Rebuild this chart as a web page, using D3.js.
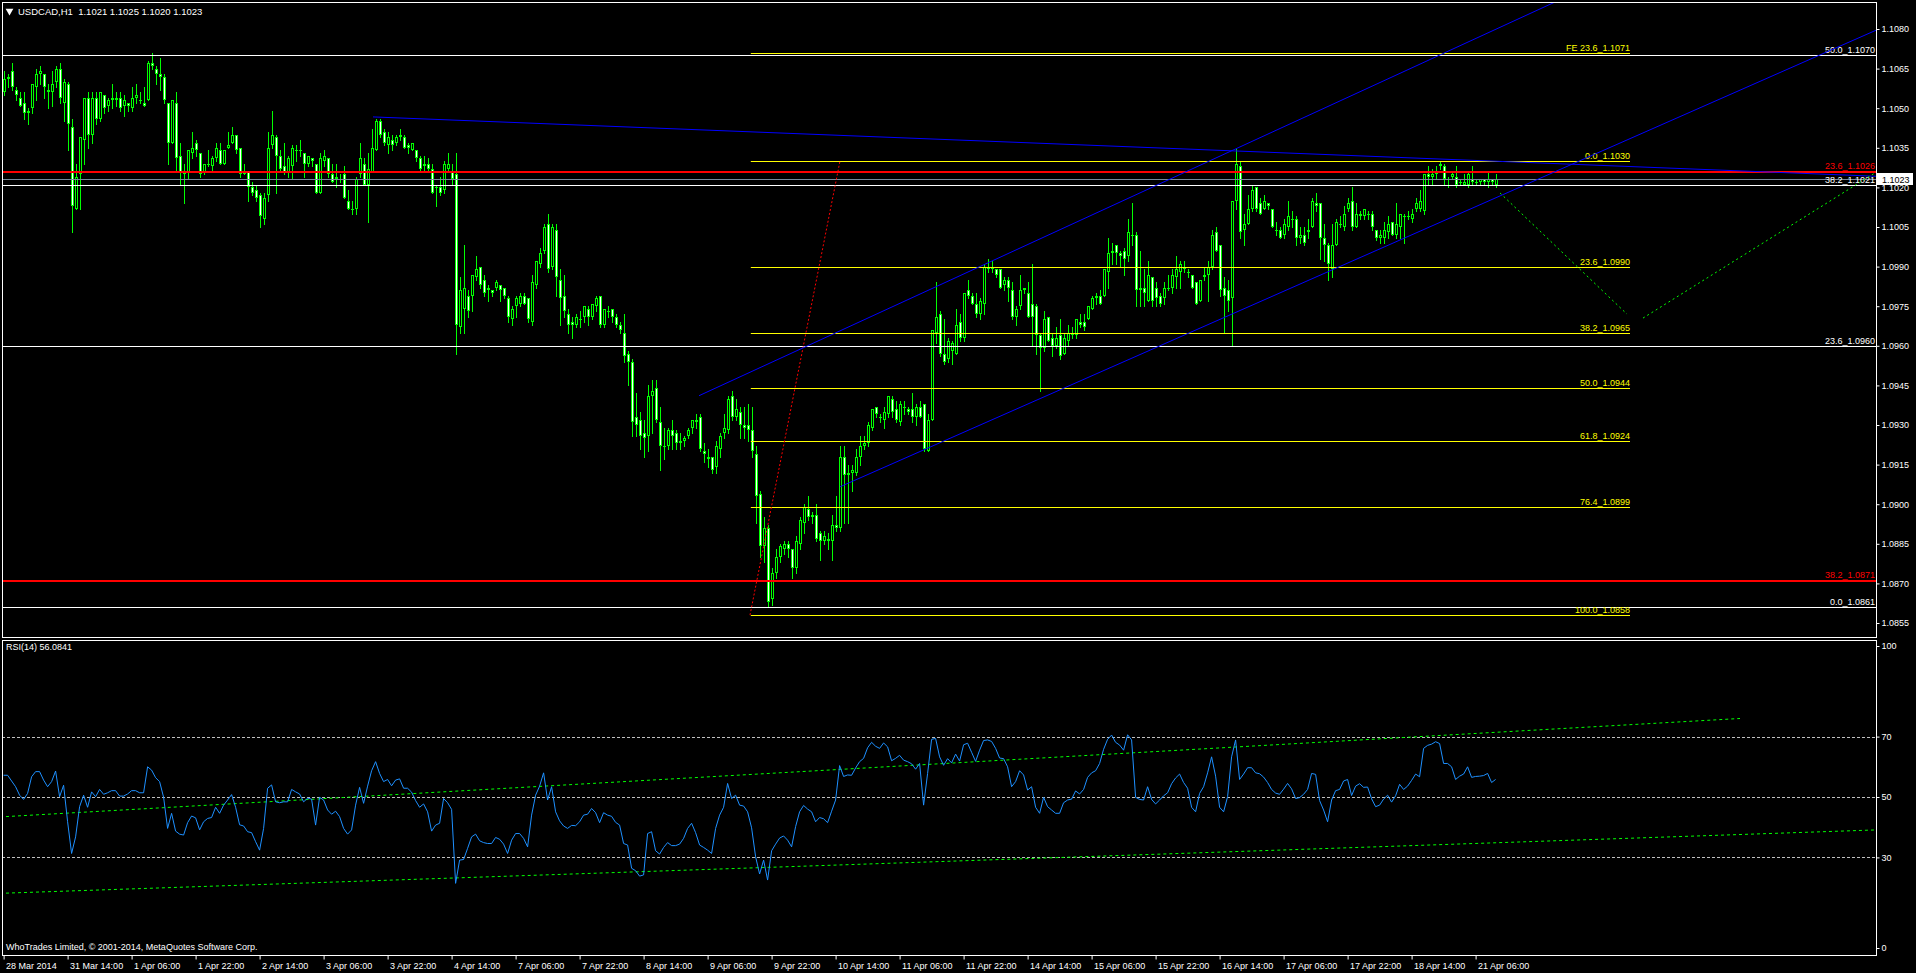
<!DOCTYPE html>
<html><head><meta charset="utf-8">
<script src="https://cdn.jsdelivr.net/npm/d3@7"></script>
<style>
html,body{margin:0;padding:0;background:#000;overflow:hidden}
svg text{font-family:"Liberation Sans",Arial,sans-serif;font-size:9px}
</style></head><body>
<svg id="chart" width="1916" height="973"></svg>
<script>
// ---------------- DATA ----------------
const symbolTitle = "USDCAD,H1  1.1021 1.1025 1.1020 1.1023";
const rsiTitle = "RSI(14) 56.0841";
const copyright = "WhoTrades Limited, \u00A9 2001-2014, MetaQuotes Software Corp.";
const pipBase = 1.08; // price = pipBase + pips/10000

const openPips = [256,261,264,257,254,252,248,250,258,263,263,257,256,260,265,252,259,243,212,225,
238,254,240,254,246,255,251,253,254,254,251,252,250,254,253,252,253,267,265,263,
262,252,237,252,232,226,226,233,237,233,226,229,228,231,234,229,235,237,240,235,
225,226,220,219,217,208,217,236,239,232,228,226,228,234,234,233,229,231,229,218,
230,231,225,223,223,225,215,212,212,225,229,221,226,234,245,241,236,238,237,239,
239,236,234,234,231,228,229,227,220,220,219,227,226,225,167,174,179,179,186,190,
185,182,181,182,183,182,178,170,175,176,179,178,169,183,191,196,206,190,204,185,
179,172,169,168,170,171,174,171,175,179,168,173,174,171,168,165,157,154,133,132,
127,126,141,144,131,122,122,128,127,123,124,126,129,132,133,120,118,118,114,121,
127,128,141,133,135,130,130,128,119,104,84,91,64,74,80,83,85,83,76,85,
93,98,95,96,89,86,87,86,92,91,118,111,112,112,118,122,123,129,137,133,
132,134,140,136,131,137,136,136,133,137,138,120,132,165,172,157,155,158,157,169,
163,181,179,176,172,176,190,189,189,189,183,185,181,171,175,181,180,176,175,164,
159,171,163,160,164,157,162,164,164,169,169,170,174,178,179,179,188,195,198,195,
196,194,202,202,181,182,177,186,182,179,178,182,182,186,188,190,188,187,184,177,
186,187,190,203,198,182,181,178,215,228,204,206,212,220,214,212,214,212,204,204,
202,205,208,208,201,202,203,205,214,214,201,198,189,198,206,205,212,215,205,210,
209,210,210,204,201,201,203,207,202,205,209,209,208,212,212,211,225,224,225,228,
228,223,224,224,222,221,221,223,222,222,223,222,223,221];

const highPips = [264,263,267,258,256,256,250,259,265,266,263,259,264,266,267,261,260,246,229,239,
254,256,256,256,256,255,254,259,256,256,255,252,258,259,256,258,268,271,266,269,
263,252,253,256,237,229,234,241,238,233,229,234,232,237,237,234,241,243,240,235,
229,226,222,221,218,218,241,249,240,234,237,232,236,236,238,233,232,231,229,233,
234,231,229,229,225,228,219,215,224,237,231,233,242,246,246,242,241,240,240,242,
240,237,237,234,232,232,231,229,221,224,230,233,229,233,186,198,181,187,194,190,
187,183,181,185,183,182,179,175,179,180,180,178,187,192,197,206,210,206,206,189,
187,174,171,172,173,175,175,176,179,179,174,175,174,172,169,172,158,155,142,135,
132,145,147,147,137,129,129,132,128,127,126,129,132,134,134,123,121,118,124,127,
134,141,143,140,137,137,138,137,122,105,95,92,76,83,85,86,86,83,88,95,
100,103,97,100,90,90,89,96,103,122,122,115,115,121,126,126,131,136,137,134,
137,141,141,139,139,139,137,142,138,139,138,134,166,184,173,170,163,162,174,172,
180,185,180,180,178,191,193,192,189,189,186,186,184,175,187,182,184,191,176,165,
173,171,165,167,170,165,168,167,170,172,172,175,179,180,181,189,201,199,198,196,
197,208,214,203,196,189,192,186,184,180,184,187,189,194,192,192,189,187,184,185,
190,192,204,205,198,186,185,215,235,230,210,217,221,220,216,217,214,212,207,205,
208,215,211,209,205,205,208,216,218,214,206,199,206,208,209,213,216,220,214,211,
212,211,211,204,204,207,209,207,214,210,210,211,212,216,219,225,228,227,228,230,
229,224,226,228,223,225,226,228,223,223,223,226,223,225];

const lowPips = [255,258,257,253,251,246,244,248,253,259,254,250,251,258,252,245,234,203,212,212,
229,235,237,244,245,248,249,250,251,249,247,249,249,252,252,251,253,265,259,257,
252,229,237,226,221,214,223,231,232,224,225,228,226,230,229,229,235,237,233,224,
225,215,217,215,205,206,215,235,218,226,225,224,223,230,232,224,228,228,218,218,
228,224,222,220,222,216,212,210,210,224,221,207,226,234,239,236,233,234,236,238,
235,233,234,230,226,226,226,218,213,217,218,226,221,157,165,165,171,173,185,182,
179,177,179,181,177,178,169,168,171,175,176,169,168,182,190,195,188,189,179,168,
171,165,163,167,167,169,168,170,173,167,167,171,169,167,165,154,145,126,126,121,
118,120,127,131,113,117,121,121,121,121,122,125,127,129,120,116,114,112,112,118,
125,127,132,132,125,125,124,118,93,80,78,61,62,72,78,81,80,72,74,83,
89,94,93,86,79,85,83,79,90,90,93,93,105,111,115,121,122,128,133,131,
129,133,133,131,130,134,134,131,130,133,120,120,132,161,156,153,154,153,157,162,
162,178,176,171,170,172,188,188,186,182,181,177,170,168,174,180,171,160,157,143,
158,162,156,159,155,157,160,163,163,167,166,170,174,176,176,179,182,191,191,190,
187,192,198,175,175,175,177,175,175,175,176,181,180,182,182,188,186,182,176,177,
185,177,189,196,179,165,173,160,212,201,198,206,211,211,210,212,212,205,202,201,
201,204,205,198,199,198,201,205,211,193,192,185,186,198,205,204,211,204,205,208,
208,208,204,200,199,199,201,202,201,201,199,208,207,211,211,210,221,221,223,227,
221,220,223,220,221,221,220,221,221,221,221,220,221,220];

const closePips = [261,262,258,255,251,248,249,259,263,264,258,256,259,265,254,260,244,213,224,239,
254,240,254,246,256,250,253,254,253,250,253,251,254,255,253,251,267,266,263,262,
253,237,253,231,226,225,234,235,234,225,229,229,231,235,229,234,236,240,234,225,
226,220,218,216,209,216,235,240,232,227,226,231,235,234,234,229,232,230,218,231,
232,225,222,224,223,216,212,212,223,231,221,227,235,245,240,237,239,236,239,240,
235,235,237,231,227,229,227,218,220,218,229,229,223,168,181,182,173,187,189,183,
180,181,180,184,181,179,171,174,178,179,176,170,184,192,195,205,189,205,186,178,
173,168,168,171,170,175,171,176,178,168,174,173,171,168,166,156,154,131,130,126,
125,141,143,132,122,122,128,126,123,124,125,128,132,131,121,119,117,113,122,126,
129,140,133,136,130,129,128,120,103,84,91,63,74,80,84,85,83,76,86,94,
99,95,96,87,86,88,86,92,91,118,111,112,113,118,122,123,130,136,134,133,
135,141,135,132,138,137,135,133,137,133,121,132,166,171,157,154,162,161,168,163,
180,179,176,172,177,190,189,190,187,182,185,182,171,174,181,182,171,171,164,159,
170,162,160,163,156,163,165,165,170,168,167,175,178,179,176,189,195,196,195,194,
193,203,202,181,182,180,187,177,178,176,182,182,187,189,191,189,188,182,176,185,
187,190,202,196,181,179,177,215,229,203,206,212,219,212,210,215,213,205,204,201,
206,209,208,201,202,199,204,215,213,201,198,191,198,207,206,210,214,205,210,209,
212,210,205,201,202,204,206,202,206,210,209,209,210,214,215,225,224,225,226,229,
223,223,225,221,222,222,225,222,222,223,222,223,222,223];

const rsiValues = [57.2,57.2,55.3,53.4,50.6,49.2,51.2,56.7,58.4,58.4,
55.6,53.4,55.1,58.6,50.1,53.9,41.8,31.3,36.8,46.8,
50.6,46.6,51.7,50.1,52.5,50.9,51.4,52.1,52.1,50.3,
50.3,51.0,52.1,52.1,51.4,51.4,60.0,58.9,56.4,55.1,
49.9,39.6,44.6,38.7,37.7,37.4,41.5,43.7,43.1,39.1,
41.8,42.9,43.2,46.6,44.6,47.3,49.0,50.8,46.6,40.8,
40.4,38.5,38.2,35.2,32.4,39.6,52.9,54.0,48.4,48.1,
48.4,48.4,52.5,51.7,51.0,48.4,49.6,49.3,40.7,49.9,
49.0,45.7,44.3,45.3,43.5,39.6,37.7,39.1,47.3,53.2,
47.9,53.6,58.7,61.7,57.8,55.1,55.8,53.7,55.6,56.0,
52.9,52.9,51.6,48.8,46.6,47.7,45.1,38.7,40.7,41.3,
49.5,48.1,45.9,21.4,29.1,29.3,33.0,36.8,37.7,35.5,
34.9,34.6,34.6,36.6,36.0,34.4,31.3,35.7,37.9,37.9,
36.3,33.5,44.0,50.6,53.6,58.0,49.0,53.4,45.1,42.1,
40.4,39.6,40.6,40.5,41.8,44.0,44.3,46.2,44.8,41.5,
44.8,44.0,43.6,41.6,40.7,34.6,34.1,26.4,25.6,23.8,
24.2,37.9,38.5,32.2,31.1,33.3,34.9,33.9,33.9,34.4,
36.3,39.6,41.3,38.2,34.1,33.3,32.4,31.3,39.6,44.0,
46.6,54.5,49.5,50.6,47.3,47.0,45.1,39.8,
30.2,24.5,29.1,22.5,32.2,34.4,36.4,37.1,35.7,33.5,
40.2,45.1,47.2,46.0,45.1,41.8,43.2,42.8,41.5,45.3,
49.0,60.4,56.8,57.3,57.2,59.6,61.7,62.8,66.3,68.1,
66.8,66.1,67.9,66.6,62.0,62.8,63.8,62.2,61.7,61.0,
59.2,61.1,47.3,57.8,69.1,69.4,63.3,60.5,62.7,61.3,
64.2,61.9,67.3,67.8,64.8,61.8,65.5,68.7,68.9,68.4,
66.1,62.9,62.7,60.0,53.4,55.1,58.7,57.3,52.3,53.4,
46.6,44.6,49.9,46.8,45.7,44.6,44.6,48.1,49.0,49.3,
52.0,51.0,52.5,56.5,58.0,58.7,61.1,65.8,69.1,70.5,
68.1,67.2,65.5,70.6,68.9,49.9,49.2,49.0,53.4,49.2,
47.7,49.0,50.4,51.4,54.4,56.3,57.6,54.8,52.9,46.6,
45.1,51.2,53.4,58.0,63.3,56.9,46.6,45.1,50.1,63.3,
68.9,55.8,57.6,59.7,59.7,58.0,57.7,56.6,54.8,52.5,
51.3,50.9,52.6,54.5,52.7,49.5,49.8,50.9,52.5,57.8,
57.5,48.8,45.7,41.8,49.0,52.1,52.5,55.3,55.8,50.5,
53.6,54.4,53.2,53.3,49.4,46.8,47.3,49.3,50.6,48.3,
50.4,54.2,52.5,53.6,55.5,57.6,56.7,66.1,67.1,67.5,
68.3,67.7,61.1,61.1,60.0,55.8,56.9,57.6,60.0,56.5,
56.8,56.9,57.1,57.8,54.8,55.8];

const xTickLabels = ["28 Mar 2014","31 Mar 14:00","1 Apr 06:00","1 Apr 22:00","2 Apr 14:00","3 Apr 06:00",
"3 Apr 22:00","4 Apr 14:00","7 Apr 06:00","7 Apr 22:00","8 Apr 14:00","9 Apr 06:00","9 Apr 22:00",
"10 Apr 14:00","11 Apr 06:00","11 Apr 22:00","14 Apr 14:00","15 Apr 06:00","15 Apr 22:00",
"16 Apr 14:00","17 Apr 06:00","17 Apr 22:00","18 Apr 14:00","21 Apr 06:00"];
const xTickStep = 16; // bars between time labels
const priceTicks = [1.1080,1.1065,1.1050,1.1035,1.1020,1.1005,1.0990,1.0975,1.0960,1.0945,1.0930,1.0915,1.0900,1.0885,1.0870,1.0855];
const rsiTicks = [100,70,50,30,0];
const rsiLevels = [70,50,30];
const bidPrice = 1.1023;

// Fibonacci objects: [level, price]
const whiteFib = [["50.0",1.1070],["38.2",1.1021],["23.6",1.0960],["0.0",1.0861]];
const redFib = [["23.6",1.1026],["38.2",1.0871]];
const yellowFib = [["0.0",1.1030],["23.6",1.0990],["38.2",1.0965],["50.0",1.0944],["61.8",1.0924],["76.4",1.0899],["100.0",1.0858]];
const fibExpansion = [["FE 23.6",1.1071]];
const yellowFibSpan = [186.8, 406.6];            // bar index range
const fibAnchorLine = [[186.6,1.0858],[209.1,1.1030]];
// trend lines [bar index, price]
const blueResistance = [[92.35,1.10467],[308,1.10338]];
const channelLower = [[209.1,1.09066],[468.35,1.10797]];
const channelUpper = [[173.85,1.09411],[345.35,1.10606]];
const projectionDown = [[374.1,1.10179],[405.85,1.0972]];
const projectionUp = [[409.85,1.09705],[467.85,1.10255]];
// RSI trend lines [bar index, rsi]
const rsiTrendUpper = [[-0.9,43.4],[434.1,76.0]];
const rsiTrendLower = [[-0.9,18.1],[468.1,39.1]];

// ---------------- LAYOUT ----------------
const svg = d3.select("#chart");
const L = 2, R = 1877, MT = 2, MB = 637, RT = 640, RB = 955;
const font = '"Liberation Sans",Arial,sans-serif';
svg.append("rect").attr("width",1916).attr("height",973).attr("fill","#000");

const x = d3.scaleLinear().domain([-0.4, 468.35]).range([L, R]);
const y = d3.scaleLinear().domain([1.08497, 1.109023]).range([MB, MT]);
const yR = d3.scaleLinear().domain([0,100]).range([948,646]);
const px = p => pipBase + p/10000;
const xMax = x.domain()[1];

const defs = svg.append("defs");
defs.append("clipPath").attr("id","mainClip").append("rect").attr("x",L).attr("y",MT).attr("width",R-L).attr("height",MB-MT);
defs.append("clipPath").attr("id","rsiClip").append("rect").attr("x",L).attr("y",RT).attr("width",R-L).attr("height",RB-RT);

const main = svg.append("g").attr("clip-path","url(#mainClip)");
const rsiG = svg.append("g").attr("clip-path","url(#rsiClip)");

// ---------------- CANDLES ----------------
const bars = openPips.map((o,i)=>({i, o:px(o), h:px(highPips[i]), l:px(lowPips[i]), c:px(closePips[i])}));
const cg = main.append("g").attr("shape-rendering","crispEdges");
bars.forEach(b=>{
  const cx = Math.round(x(b.i));
  const yh = Math.round(y(Math.max(b.h,b.o,b.c)));
  const yl = Math.round(y(Math.min(b.l,b.o,b.c)));
  cg.append("rect").attr("x",cx).attr("y",yh).attr("width",1).attr("height",Math.max(1,yl-yh+1)).attr("fill","#00ff00");
  const top = Math.round(y(Math.max(b.o,b.c)));
  const bot = Math.round(y(Math.min(b.o,b.c)));
  if (bot - top <= 2) {
    cg.append("rect").attr("x",cx-1).attr("y",top).attr("width",3).attr("height",Math.max(1,bot-top)).attr("fill","#00ff00");
  } else {
    cg.append("rect").attr("x",cx-0.5).attr("y",top+0.5).attr("width",2).attr("height",bot-top-1)
      .attr("fill", b.o > b.c ? "#ffffff" : "#000000").attr("stroke","#00ff00").attr("stroke-width",1);
  }
});

// ---------------- OBJECTS ----------------
function ray(pts){ const [[i0,p0],[i1,p1]] = pts; return [[i0,p0],[xMax, p0 + (xMax-i0)/(i1-i0)*(p1-p0)]]; }
function seg(g, pts, color, dash, yScale){
  const ys = yScale || y;
  g.append("line").attr("x1",x(pts[0][0])).attr("y1",ys(pts[0][1])).attr("x2",x(pts[1][0])).attr("y2",ys(pts[1][1]))
   .attr("stroke",color).attr("stroke-width",1).attr("stroke-dasharray",dash||null);
}
const hY = p => Math.round(y(p)) + 0.5;

// bid line
main.append("line").attr("x1",L).attr("x2",R).attr("y1",hY(bidPrice)).attr("y2",hY(bidPrice)).attr("stroke","#778899");

// white fib (full width)
whiteFib.forEach(([lv,p])=>{
  main.append("line").attr("x1",L).attr("x2",R).attr("y1",hY(p)).attr("y2",hY(p)).attr("stroke","#ffffff");
  main.append("text").attr("x",R-2).attr("y",hY(p)-2.5).attr("text-anchor","end").attr("fill","#ffffff").text(lv+"_"+p.toFixed(4));
});
// red fib (thick)
redFib.forEach(([lv,p])=>{
  main.append("line").attr("x1",L).attr("x2",R).attr("y1",Math.round(y(p))).attr("y2",Math.round(y(p))).attr("stroke","#ff0000").attr("stroke-width",2);
  main.append("text").attr("x",R-2).attr("y",Math.round(y(p))-3).attr("text-anchor","end").attr("fill","#ff0000").text(lv+"_"+p.toFixed(4));
});
// yellow fib + expansion
yellowFib.concat(fibExpansion).forEach(([lv,p])=>{
  main.append("line").attr("x1",x(yellowFibSpan[0])).attr("x2",x(yellowFibSpan[1])).attr("y1",hY(p)).attr("y2",hY(p)).attr("stroke","#ffff00");
  main.append("text").attr("x",x(yellowFibSpan[1])).attr("y",hY(p)-2.5).attr("text-anchor","end").attr("fill","#ffff00").text(lv+"_"+p.toFixed(4));
});
seg(main, fibAnchorLine, "#ff0000", "2,2");

// blue trend lines
seg(main, ray(blueResistance), "#0000ff");
seg(main, ray(channelLower), "#0000ff");
seg(main, ray(channelUpper), "#0000ff");
// green projections
seg(main, projectionDown, "#00ff00", "2,3");
seg(main, projectionUp, "#00ff00", "2,3");

// ---------------- RSI ----------------
rsiLevels.forEach(v=>{
  rsiG.append("line").attr("x1",L).attr("x2",R).attr("y1",Math.round(yR(v))+0.5).attr("y2",Math.round(yR(v))+0.5)
    .attr("stroke","#c0c0c0").attr("stroke-dasharray","3,2");
});
seg(rsiG, rsiTrendUpper, "#00ff00", "3,3", yR);
seg(rsiG, rsiTrendLower, "#00ff00", "3,3", yR);
rsiG.append("path").datum(rsiValues).attr("fill","none").attr("stroke","#1e90ff").attr("stroke-width",1)
  .attr("d", d3.line().x((d,i)=>x(i)).y(d=>yR(d)));

// ---------------- FRAMES ----------------
svg.append("rect").attr("x",L+0.5).attr("y",MT+0.5).attr("width",R-L-1).attr("height",MB-MT).attr("fill","none").attr("stroke","#fff");
svg.append("rect").attr("x",L+0.5).attr("y",RT+0.5).attr("width",R-L-1).attr("height",RB-RT).attr("fill","none").attr("stroke","#fff");

// ---------------- AXES ----------------
function styleAxis(g){
  g.select(".domain").remove();
  g.selectAll(".tick line").attr("stroke","#fff");
  g.selectAll(".tick text").attr("fill","#fff").style("font-family",font).style("font-size","9px");
}
svg.append("g").attr("transform",`translate(${R-0.5},0)`)
  .call(d3.axisRight(y).tickValues(priceTicks).tickSize(3).tickPadding(2).tickFormat(d3.format(".4f"))).call(styleAxis);
svg.append("g").attr("transform",`translate(${R-0.5},0)`)
  .call(d3.axisRight(yR).tickValues(rsiTicks).tickSize(3).tickPadding(2).tickFormat(d3.format("d"))).call(styleAxis);
const xg = svg.append("g").attr("transform",`translate(0,${RB+0.5})`)
  .call(d3.axisBottom(x).tickValues(xTickLabels.map((_,k)=>k*xTickStep)).tickSize(4).tickPadding(3).tickFormat((d,k)=>xTickLabels[k]));
styleAxis(xg);
xg.selectAll(".tick text").attr("text-anchor","start").attr("x",2);

// current price box
const by = Math.round(y(bidPrice));
svg.append("rect").attr("x",R).attr("y",by-6).attr("width",36).attr("height",12).attr("fill","#fff");
svg.append("text").attr("x",R+5).attr("y",by+3.5).attr("fill","#000").style("font-family",font).style("font-size","9px").text(bidPrice.toFixed(4));

// ---------------- TEXTS ----------------
svg.append("path").attr("d",d3.symbol(d3.symbolTriangle,26)()).attr("transform","translate(9.5,11) rotate(180)").attr("fill","#fff");
svg.append("text").attr("x",18).attr("y",14.5).attr("fill","#fff").style("font-size","9.5px").text(symbolTitle.replace("  ","\u00A0\u00A0"));
svg.append("text").attr("x",6).attr("y",650).attr("fill","#fff").text(rsiTitle);
svg.append("text").attr("x",6).attr("y",950).attr("fill","#fff").text(copyright);
</script>
</body></html>
